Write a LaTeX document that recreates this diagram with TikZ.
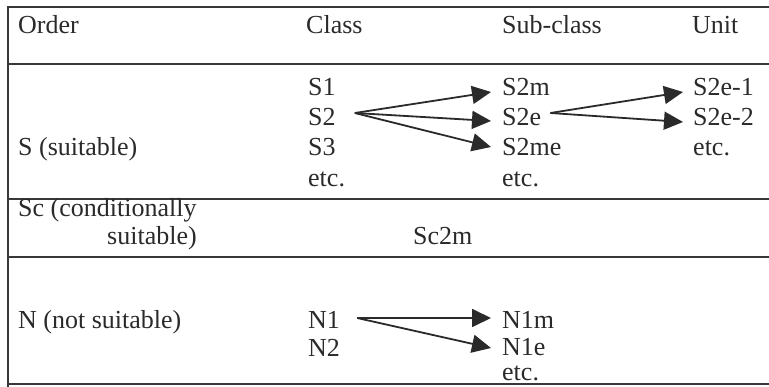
\documentclass[tikz,border=0pt]{standalone}
\usepackage{fontspec}
\setmainfont{Liberation Serif}
\usetikzlibrary{arrows.meta}
\definecolor{ink}{HTML}{2A2A2A}
\definecolor{rule}{HTML}{383838}
\tikzset{
  txt/.style={anchor=base west, inner sep=0pt, text=ink, font=\fontsize{26}{30}\selectfont},
  rul/.style={draw=rule, line width=2pt},
  arr/.style={draw=ink, line width=1.8pt, -{Triangle[length=19pt,width=18pt]}, fill=ink}
}
\begin{document}
\begin{tikzpicture}[x=1pt,y=-1pt]
\useasboundingbox (0,0) rectangle (769,387);
% table rules
\draw[rul] (8,7) -- (769,7);
\draw[rul, line width=2.4pt] (8,6) -- (8,387);
\draw[rul] (8,64) -- (769,64);
\draw[rul] (8,199) -- (769,199);
\draw[rul] (8,257) -- (769,257);
\draw[rul] (8,384) -- (769,384);
% header
\node[txt] (hOrder) at (18,34) {Order};
\node[txt] (hClass) at (306,34) {Class};
\node[txt] (hSub) at (502,34) {Sub-class};
\node[txt] (hUnit) at (692,34) {Unit};
% S row
\node[txt] (S) at (18,156) {S (suitable)};
\node[txt] (S1) at (308,96) {S1};
\node[txt] (S2) at (308,126) {S2};
\node[txt] (S3) at (308,156) {S3};
\node[txt] (Setc) at (308,187) {etc.};
\node[txt] (S2m) at (502,96) {S2m};
\node[txt] (S2e) at (502,126) {S2e};
\node[txt] (S2me) at (502,156) {S2me};
\node[txt] (Subetc) at (502,187) {etc.};
\node[txt] (S2e1) at (693,96) {S2e-1};
\node[txt] (S2e2) at (693,126) {S2e-2};
\node[txt] (Uetc) at (693,156) {etc.};
% Sc row
\node[txt] (Sc1) at (18,217) {Sc (conditionally};
\node[txt] (Sc2) at (107,245) {suitable)};
\node[txt] (Sc2m) at (413,245) {Sc2m};
% N row
\node[txt] (N) at (18,329) {N (not suitable)};
\node[txt] (N1) at (308,329) {N1};
\node[txt] (N2) at (308,357) {N2};
\node[txt] (N1m) at (502,329) {N1m};
\node[txt] (N1e) at (502,356) {N1e};
\node[txt] (Netc) at (502,381) {etc.};
% arrows
\coordinate (oS2) at ([shift={(19,-13)}]S2.base east);
\coordinate (oS2e) at ([shift={(9,-13)}]S2e.base east);
\coordinate (oN1) at ([shift={(17,-11)}]N1.base east);
\draw[arr] (oS2) -- ([shift={(-11,-4)}]S2m.base west);
\draw[arr] (oS2) -- ([shift={(-11,-5)}]S2e.base west);
\draw[arr] (oS2) -- ([shift={(-11,-9)}]S2me.base west);
\draw[arr] (oS2e) -- ([shift={(-10,-4)}]S2e1.base west);
\draw[arr] (oS2e) -- ([shift={(-10,-4)}]S2e2.base west);
\draw[arr] (oN1) -- ([shift={(-11,-11)}]N1m.base west);
\draw[arr] (oN1) -- ([shift={(-11,-8)}]N1e.base west);
\end{tikzpicture}
\end{document}
